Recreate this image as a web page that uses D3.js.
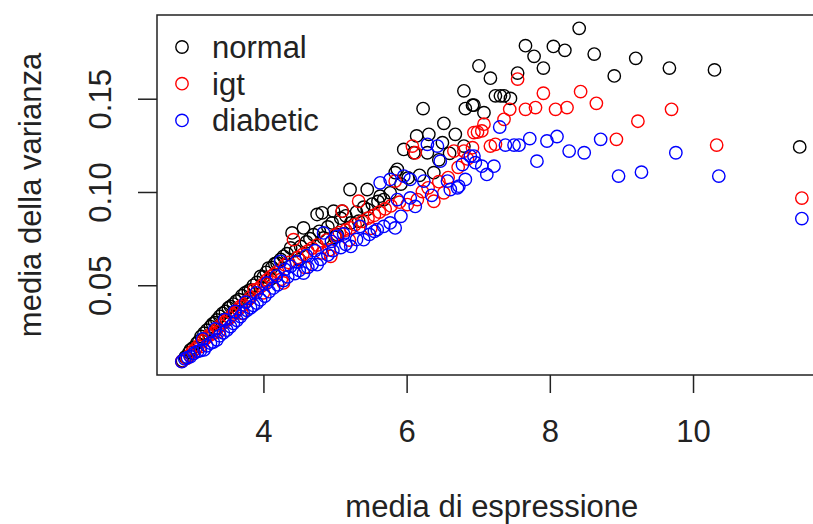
<!DOCTYPE html>
<html>
<head>
<meta charset="utf-8">
<script src="https://cdn.jsdelivr.net/npm/d3@7"></script>
<style>
  body { margin: 0; background: #fff; }
  svg { display: block; font-family: "Liberation Sans", Arial, sans-serif; }
</style>
</head>
<body>
<div class="graph"></div>
<script>
// [media di espressione, media della varianza]
const normal = [
  [2.87,0.0098],[2.91,0.0118],[2.96,0.0142],[2.98,0.0156],[3.02,0.0168],[3.07,0.0192],[3.10,0.0205],
  [3.13,0.0228],[3.17,0.0246],[3.21,0.0262],[3.26,0.0281],[3.29,0.0296],[3.32,0.0302],[3.35,0.0317],
  [3.39,0.0336],[3.43,0.0352],[3.45,0.0318],[3.47,0.0362],[3.51,0.0381],[3.54,0.0389],[3.58,0.0402],
  [3.62,0.0418],[3.66,0.0425],[3.70,0.0447],[3.74,0.0461],[3.79,0.0472],[3.80,0.0432],[3.82,0.0478],
  [3.86,0.0502],[3.91,0.0518],[3.96,0.0550],[4.00,0.0548],[4.04,0.0572],[4.07,0.0595],[4.10,0.0535],
  [4.12,0.0598],[4.16,0.0618],[4.19,0.0622],[4.24,0.0641],[4.28,0.0658],[4.33,0.0672],[4.38,0.0703],
  [4.40,0.0783],[4.45,0.0688],[4.50,0.0640],[4.52,0.0711],[4.56,0.0810],[4.60,0.0735],[4.65,0.0752],
  [4.70,0.0774],[4.75,0.0882],[4.78,0.0792],[4.82,0.0891],[4.84,0.0756],[4.90,0.0815],[4.96,0.0837],
  [4.98,0.0900],[5.00,0.0760],[5.03,0.0774],[5.08,0.0862],[5.10,0.0900],[5.15,0.0875],[5.21,0.1016],
  [5.22,0.0837],[5.30,0.0895],[5.33,0.0846],[5.40,0.0921],[5.45,0.0909],[5.45,0.1016],[5.52,0.0938],
  [5.60,0.0952],[5.63,0.0980],[5.68,0.0962],[5.77,0.0998],[5.84,0.1106],[5.87,0.1124],[5.92,0.1045],
  [5.96,0.1231],[6.02,0.1078],[6.10,0.1213],[6.14,0.1303],[6.18,0.1092],[6.23,0.1450],[6.29,0.1213],
  [6.31,0.1312],[6.38,0.1106],[6.45,0.1175],[6.50,0.1267],[6.52,0.1371],[6.60,0.1210],[6.68,0.1312],
  [6.80,0.1545],[6.80,0.1249],[6.82,0.1450],[6.92,0.1468],[6.94,0.1468],[7.01,0.1679],[7.08,0.1428],
  [7.17,0.1613],[7.24,0.1518],[7.31,0.1518],[7.36,0.1518],[7.45,0.1504],[7.55,0.1640],[7.66,0.1787],
  [7.78,0.1730],[7.91,0.1667],[8.05,0.1783],[8.21,0.1762],[8.41,0.1880],[8.62,0.1742],[8.90,0.1625],
  [9.20,0.1719],[9.67,0.1667],[10.30,0.1657],[11.49,0.1244]
];
const igt = [
  [2.86,0.0095],[2.93,0.0111],[2.97,0.0128],[3.01,0.0148],[3.05,0.0162],[3.09,0.0178],[3.12,0.0174],
  [3.16,0.0205],[3.20,0.0221],[3.24,0.0232],[3.28,0.0242],[3.31,0.0246],[3.36,0.0272],[3.38,0.0255],
  [3.40,0.0288],[3.45,0.0302],[3.49,0.0317],[3.53,0.0328],[3.57,0.0345],[3.61,0.0358],[3.65,0.0372],
  [3.68,0.0389],[3.70,0.0352],[3.72,0.0398],[3.77,0.0418],[3.82,0.0438],[3.87,0.0478],[3.92,0.0482],
  [3.97,0.0498],[4.00,0.0462],[4.01,0.0512],[4.05,0.0532],[4.10,0.0548],[4.15,0.0562],[4.20,0.0575],
  [4.25,0.0535],[4.28,0.0515],[4.30,0.0612],[4.35,0.0625],[4.42,0.0747],[4.48,0.0652],[4.55,0.0668],
  [4.58,0.0598],[4.62,0.0685],[4.68,0.0702],[4.75,0.0718],[4.82,0.0676],[4.88,0.0745],[4.92,0.0692],
  [4.94,0.0658],[5.00,0.0772],[5.06,0.0785],[5.10,0.0900],[5.15,0.0798],[5.20,0.0745],[5.22,0.0810],
  [5.28,0.0828],[5.33,0.0953],[5.38,0.0845],[5.46,0.0862],[5.50,0.0808],[5.55,0.0878],[5.62,0.0895],
  [5.70,0.0912],[5.78,0.0928],[5.84,0.1061],[5.90,0.0948],[6.01,0.0935],[6.08,0.1249],[6.12,0.1213],
  [6.15,0.0962],[6.22,0.1005],[6.30,0.1025],[6.38,0.0953],[6.45,0.1058],[6.52,0.0998],[6.58,0.1080],
  [6.66,0.1222],[6.72,0.1135],[6.80,0.1222],[6.85,0.1180],[6.92,0.1240],[6.94,0.1321],[6.99,0.1324],
  [7.05,0.1330],[7.08,0.1366],[7.17,0.1249],[7.24,0.1258],[7.36,0.1392],[7.44,0.1446],[7.55,0.1608],
  [7.66,0.1446],[7.80,0.1455],[7.91,0.1532],[8.08,0.1446],[8.24,0.1455],[8.43,0.1541],[8.65,0.1478],
  [8.93,0.1285],[9.23,0.1382],[9.70,0.1446],[10.33,0.1254],[11.52,0.0970]
];
const diabetic = [
  [2.86,0.0093],[2.90,0.0108],[2.94,0.0115],[2.98,0.0120],[3.03,0.0138],[3.08,0.0148],[3.12,0.0152],
  [3.15,0.0215],[3.17,0.0156],[3.21,0.0178],[3.26,0.0192],[3.30,0.0198],[3.32,0.0268],[3.35,0.0210],
  [3.39,0.0232],[3.44,0.0248],[3.46,0.0318],[3.49,0.0262],[3.54,0.0281],[3.58,0.0298],[3.60,0.0362],
  [3.63,0.0315],[3.68,0.0335],[3.72,0.0353],[3.75,0.0412],[3.77,0.0368],[3.82,0.0382],[3.86,0.0395],
  [3.90,0.0462],[3.91,0.0407],[3.96,0.0425],[4.02,0.0445],[4.05,0.0515],[4.08,0.0468],[4.14,0.0488],
  [4.18,0.0552],[4.20,0.0505],[4.24,0.0631],[4.28,0.0528],[4.30,0.0588],[4.34,0.0548],[4.38,0.0604],
  [4.44,0.0565],[4.46,0.0628],[4.50,0.0582],[4.56,0.0568],[4.60,0.0662],[4.62,0.0598],[4.68,0.0615],
  [4.72,0.0688],[4.75,0.0613],[4.80,0.0642],[4.84,0.0783],[4.90,0.0665],[4.95,0.0738],[4.97,0.0688],
  [5.03,0.0765],[5.08,0.0705],[5.12,0.0778],[5.15,0.0722],[5.22,0.0711],[5.30,0.0748],[5.35,0.0818],
  [5.40,0.0747],[5.48,0.0775],[5.55,0.0792],[5.59,0.0801],[5.63,0.1052],[5.68,0.0818],[5.77,0.0837],
  [5.77,0.1070],[5.84,0.0810],[5.87,0.0962],[5.92,0.0872],[5.96,0.1088],[6.05,0.0971],[6.05,0.1070],
  [6.12,0.0925],[6.24,0.1061],[6.29,0.1258],[6.35,0.0985],[6.43,0.1249],[6.47,0.1168],[6.57,0.1061],
  [6.61,0.1016],[6.71,0.1025],[6.73,0.1034],[6.78,0.1150],[6.82,0.1070],[6.89,0.1195],[6.94,0.1195],
  [6.96,0.1160],[7.05,0.1141],[7.12,0.1097],[7.22,0.1141],[7.30,0.1351],[7.38,0.1254],[7.50,0.1254],
  [7.57,0.1254],[7.72,0.1289],[7.82,0.1168],[7.96,0.1276],[8.10,0.1300],[8.27,0.1222],[8.48,0.1213],
  [8.71,0.1285],[8.96,0.1088],[9.28,0.1109],[9.76,0.1213],[10.36,0.1088],[11.52,0.0860]
];
const groupNames = ["normal", "igt", "diabetic"];
const groupColors = ["#000000", "#ff0000", "#0000ff"];
const xTicks = [4, 6, 8, 10];
const yTicks = [0.05, 0.10, 0.15];
const yTickLabels = ["0.05", "0.10", "0.15"];

const margins = { top: 15, left: 157 };
const totalWidth = 813, totalHeight = 524;
const height = 360;
const pxPerX = 71.6; // R device scale, plot runs past right edge

const groups = [normal, igt, diabetic];
const all = groups.flat();

// R style 4% padding on the data range
const xExt = d3.extent(all, (d) => d[0]);
const yExt = d3.extent(all, (d) => d[1]);
const xPad = (xExt[1] - xExt[0]) * 0.04;
const yPad = (yExt[1] - yExt[0]) * 0.04;
const xDomain = [xExt[0] - xPad, xExt[1] + xPad];
const width = (xDomain[1] - xDomain[0]) * pxPerX;

const x = d3.scaleLinear().domain(xDomain).range([0, width]);
const y = d3.scaleLinear().domain([yExt[0] - yPad, yExt[1] + yPad]).range([height, 0]);

const svg = d3
  .select(".graph")
  .append("svg")
  .attr("width", totalWidth)
  .attr("height", totalHeight);

const g = svg
  .append("g")
  .attr("transform", `translate(${margins.left},${margins.top})`);

// points: normal first, then igt, then diabetic on top
groups.forEach((data, i) => {
  g.append("g")
    .selectAll("circle")
    .data(data)
    .enter()
    .append("circle")
    .attr("cx", (d) => x(d[0]))
    .attr("cy", (d) => y(d[1]))
    .attr("r", 6.2)
    .attr("fill", "none")
    .attr("stroke", groupColors[i])
    .attr("stroke-width", 1.4);
});

// box
g.append("rect")
  .attr("x", 0)
  .attr("y", 0)
  .attr("width", width)
  .attr("height", height)
  .attr("fill", "none")
  .attr("stroke", "#222")
  .attr("stroke-width", 1.5);

// axes
const xAxis = d3.axisBottom(x).tickValues(xTicks).tickSize(18).tickPadding(27).tickFormat(d3.format("d"));
const xg = g.append("g").attr("transform", `translate(0,${height})`).call(xAxis);
xg.select(".domain").remove();
xg.selectAll("line").attr("stroke", "#222").attr("stroke-width", 1.5);
xg.selectAll("text")
  .attr("fill", "#222")
  .style("font-size", "31px")
  .style("font-family", '"Liberation Sans", Arial, sans-serif');

const yg = g.append("g");
yg.selectAll("line")
  .data(yTicks)
  .enter()
  .append("line")
  .attr("x1", -19)
  .attr("x2", 0)
  .attr("y1", (d) => y(d))
  .attr("y2", (d) => y(d))
  .attr("stroke", "#222")
  .attr("stroke-width", 1.5);
yg.selectAll("text")
  .data(yTicks)
  .enter()
  .append("text")
  .attr("transform", (d) => `translate(-46,${y(d)}) rotate(-90)`)
  .attr("text-anchor", "middle")
  .attr("fill", "#222")
  .style("font-size", "31px")
  .text((d, i) => yTickLabels[i]);

// axis titles
svg
  .append("text")
  .attr("x", margins.left + width / 2)
  .attr("y", 517)
  .attr("text-anchor", "middle")
  .attr("fill", "#222")
  .style("font-size", "31px")
  .text("media di espressione");

svg
  .append("text")
  .attr("transform", `translate(41,${margins.top + height / 2}) rotate(-90)`)
  .attr("text-anchor", "middle")
  .attr("fill", "#222")
  .style("font-size", "31px")
  .text("media della varianza");

// legend
const legend = svg.append("g").attr("transform", "translate(182,47)");
groupNames.forEach((name, i) => {
  legend
    .append("circle")
    .attr("cx", 0)
    .attr("cy", i * 36.7)
    .attr("r", 6.2)
    .attr("fill", "none")
    .attr("stroke", groupColors[i])
    .attr("stroke-width", 1.4);
  legend
    .append("text")
    .attr("x", 30)
    .attr("y", i * 36.7 + 11)
    .attr("fill", "#222")
    .style("font-size", "31px")
    .text(name);
});
</script>
</body>
</html>
